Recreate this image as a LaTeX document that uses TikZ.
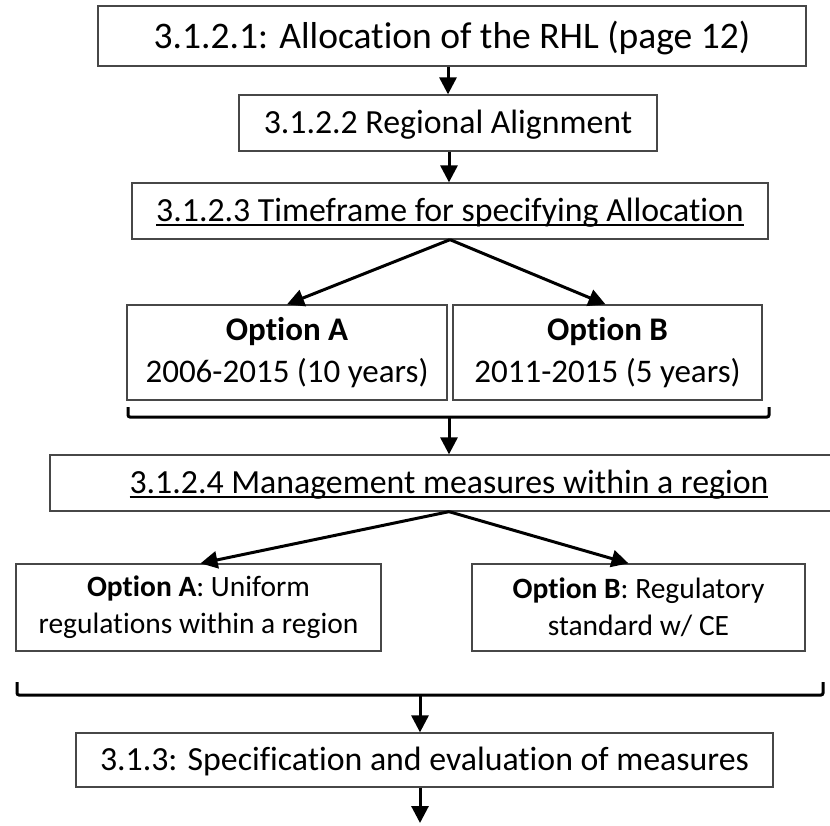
\documentclass[tikz,border=0pt]{standalone}
\usepackage{fontspec}
\setmainfont{Carlito}[Ligatures={NoCommon}]
\usetikzlibrary{arrows.meta,calc}
\newcommand{\myul}[1]{\setbox0\hbox{#1}\rlap{\rule[-0.13em]{\wd0}{0.055em}}\box0}
\begin{document}
\begin{tikzpicture}[x=1pt,y=-1pt,
  box/.style={draw=black!72, line width=1.3pt, inner sep=0pt, align=center, text=black},
  arr/.style={line width=3pt, draw=black, -{Triangle[length=17pt,width=17pt]}},
  brk/.style={line width=3pt, draw=black, rounded corners=2pt},
  big/.style={font=\fontsize{37.5}{40}\selectfont, text height=24pt, text depth=0pt},
  mid/.style={font=\fontsize{33.8}{40}\selectfont, text height=21.6pt, text depth=0pt},
  opt/.style={font=\fontsize{33}{41.5}\selectfont},
  low/.style={font=\fontsize{29.5}{37}\selectfont}]
\clip (0,0) rectangle (830,825);
\fill[white] (0,0) rectangle (830,825);
% boxes
\node[box, big, minimum width=708pt, minimum height=60pt] (b1) at (452,36) {3.1.2.1: Allocation of the RHL (page 12)};
\node[box, mid, minimum width=418pt, minimum height=56pt] (b2) at (448,123) {3.1.2.2 Regional Alignment};
\node[box, mid, minimum width=636pt, minimum height=56pt] (b3) at (450,211) {\myul{3.1.2.3 Timeframe for specifying Allocation}};
\node[box, opt, minimum width=320pt, minimum height=95pt] (oa) at (287,352.5) {\textbf{Option A}\\2006-2015 (10 years)};
\node[box, opt, minimum width=309pt, minimum height=95pt] (ob) at (607.5,352.5) {\textbf{Option B}\\2011-2015 (5 years)};
\node[box, mid, minimum width=798pt, minimum height=56pt] (b4) at (449,483) {\myul{3.1.2.4 Management measures within a region}};
\node[box, low, minimum width=365pt, minimum height=87pt] (la) at (198.5,607.5) {\textbf{Option A}: Uniform\\regulations within a region};
\node[box, low, minimum width=333pt, minimum height=87pt] (lb) at (638.5,607.5) {\textbf{Option B}: Regulatory\\standard w/ CE};
\node[box, mid, minimum width=697pt, minimum height=54pt] (b5) at (424.5,760) {3.1.3: Specification and evaluation of measures};
% brackets
\coordinate (k1) at (449,417);
\coordinate (k2) at (420,695);
\coordinate (end) at (420,823);
\draw[brk] (128,407) -- (128,417) -- (769,417) -- (769,407);
\draw[brk] (17,682) -- (17,695) -- (823,695) -- (823,682);
% arrows
\draw[arr] (b2.north |- b1.south) -- (b2.north);
\draw[arr] ($(b2.south)+(1,0)$) -- ($(b2.south |- b3.north)+(1,0)$);
\draw[arr] (b3.south) -- (oa.north);
\draw[arr] (b3.south) -- ($(ob.north)+(-2,0)$);
\draw[arr] (k1) -- (k1 |- b4.north);
\draw[arr] (b4.south) -- ($(la.north)+(2,0)$);
\draw[arr] (b4.south) -- ($(lb.north)+(-10,0)$);
\draw[arr] (k2) -- (k2 |- b5.north);
\draw[arr] (k2 |- b5.south) -- (end);
\end{tikzpicture}
\end{document}
